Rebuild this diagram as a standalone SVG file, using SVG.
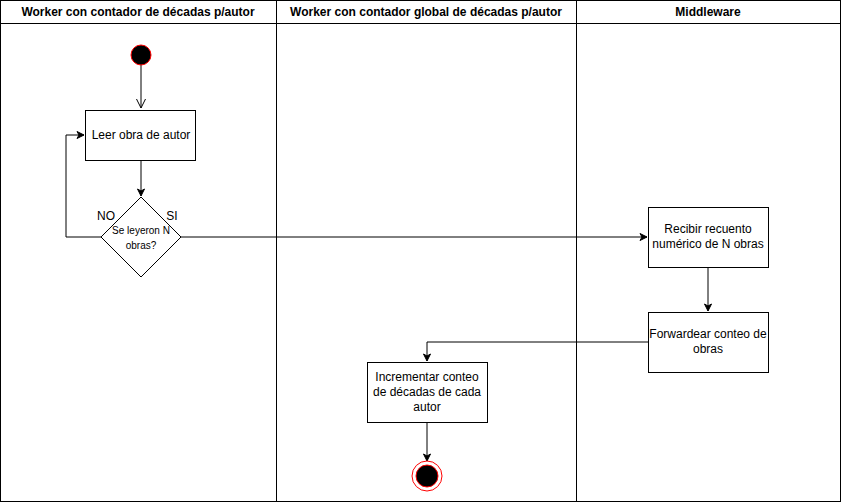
<svg xmlns="http://www.w3.org/2000/svg" width="841" height="503" viewBox="0 0 841 503">
<style>
.lane{fill:#fff;stroke:#000;stroke-width:1}
.hdr{font-family:"Liberation Sans",Arial,sans-serif;font-size:12px;font-weight:bold;text-anchor:middle;fill:#000}
.box{fill:#fff;stroke:#000;stroke-width:1}
.t{font-family:"Liberation Sans",Arial,sans-serif;font-size:12px;text-anchor:middle;fill:#000}
.ts{font-family:"Liberation Sans",Arial,sans-serif;font-size:10px;text-anchor:middle;fill:#000}
.c{fill:none;stroke:#000;stroke-width:1}
</style>
<defs>
<marker id="a" markerWidth="10" markerHeight="10" refX="8" refY="5" orient="auto" markerUnits="userSpaceOnUse">
<path d="M1,1.5 L8,5 L1,8.5 L3,5 Z" fill="#000" stroke="#000"/>
</marker>
<marker id="o" markerWidth="12" markerHeight="12" refX="10" refY="6" orient="auto" markerUnits="userSpaceOnUse">
<path d="M1,1.5 L10,6 L1,10.5" fill="none" stroke="#000"/>
</marker>
</defs>
<g id="lanes">
<rect class="lane" x="0.5" y="0.5" width="276" height="501"/>
<rect class="lane" x="276.5" y="0.5" width="300" height="501"/>
<rect class="lane" x="576.5" y="0.5" width="264" height="501"/>
<line x1="0" y1="23.5" x2="841" y2="23.5" stroke="#000"/>
<text class="hdr" x="138" y="16">Worker con contador de décadas p/autor</text>
<text class="hdr" x="426" y="16">Worker con contador global de décadas p/autor</text>
<text class="hdr" x="708" y="16">Middleware</text>
</g>
<g id="connectors">
<path class="c" d="M141,65 L141,108" marker-end="url(#o)"/>
<path class="c" d="M141,160 L141,196" marker-end="url(#a)"/>
<path class="c" d="M101,237 L66,237 L66,135 L84,135" marker-end="url(#a)"/>
<path class="c" d="M181,237 L647,237" marker-end="url(#a)"/>
<path class="c" d="M708,267 L708,311" marker-end="url(#a)"/>
<path class="c" d="M648,342 L427,342 L427,361" marker-end="url(#a)"/>
<path class="c" d="M427,422 L427,461" marker-end="url(#a)"/>
<text class="t" x="106" y="220">NO</text>
<text class="t" x="172" y="220">SI</text>
</g>
<g id="start">
<circle cx="141" cy="55" r="10" fill="#000" stroke="#f00"/>
</g>
<g id="leer">
<rect class="box" x="85.5" y="110.5" width="110" height="50"/>
<text class="t" x="141" y="139">Leer obra de autor</text>
</g>
<g id="decision">
<path d="M141,197 L181,237 L141,277 L101,237 Z" fill="#fff" stroke="#000"/>
<text class="ts" x="141" y="234">Se leyeron N</text>
<text class="ts" x="141" y="249">obras?</text>
</g>
<g id="recibir">
<rect class="box" x="648.5" y="207.5" width="120" height="60"/>
<text class="t" x="708" y="233">Recibir recuento</text>
<text class="t" x="708" y="248">numérico de N obras</text>
</g>
<g id="forward">
<rect class="box" x="648.5" y="312.5" width="120" height="60"/>
<text class="t" x="708" y="338">Forwardear conteo de</text>
<text class="t" x="708" y="353">obras</text>
</g>
<g id="incrementar">
<rect class="box" x="367.5" y="362.5" width="120" height="60"/>
<text class="t" x="427" y="381">Incrementar conteo</text>
<text class="t" x="427" y="396">de décadas de cada</text>
<text class="t" x="427" y="411">autor</text>
</g>
<g id="end">
<circle cx="427" cy="476" r="15" fill="#fff" stroke="#f00"/>
<circle cx="427" cy="476" r="11" fill="#000" stroke="#f00"/>
</g>
</svg>
